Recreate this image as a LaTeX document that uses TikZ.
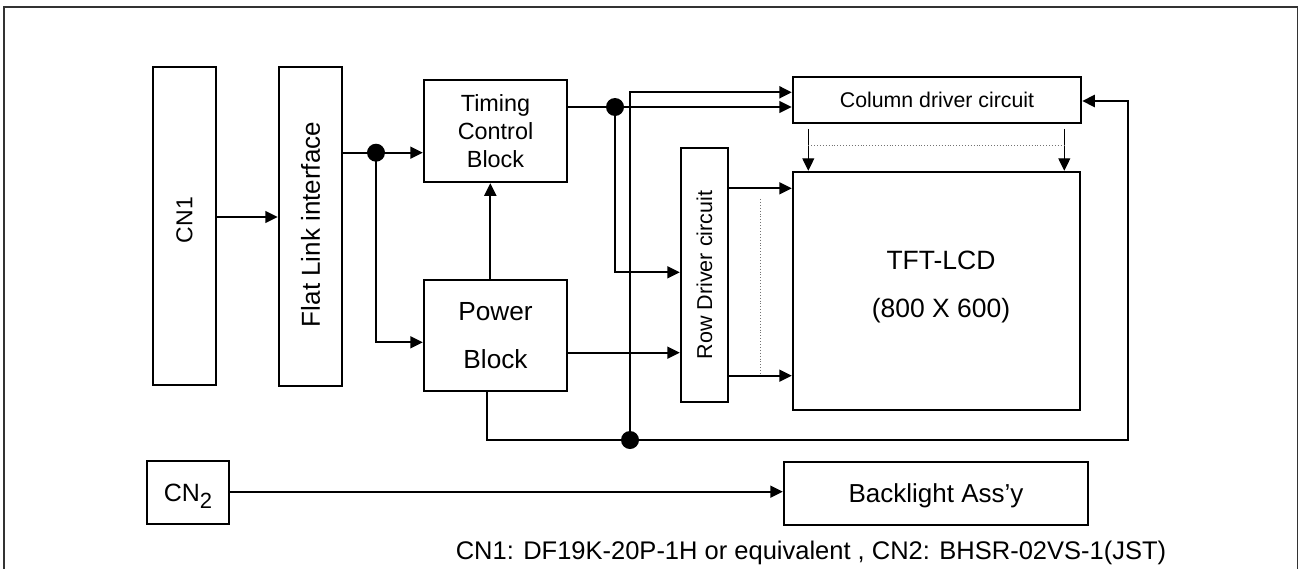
\documentclass[tikz,border=0pt]{standalone}
\usepackage{fontspec}
\setmainfont{Liberation Sans}
\usetikzlibrary{arrows.meta}
\newcommand{\fsz}[1]{\fontsize{#1}{#1}\selectfont}
\tikzset{
 box/.style={draw=black, line width=2.5pt, inner sep=0pt, align=center},
 conn/.style={line width=1.7pt},
 arr/.style={conn, -{Triangle[length=12.5pt,width=12pt]}},
 thickconn/.style={line width=2.3pt},
 dotline/.style={draw=black!55, line width=0.9pt, dotted},
 junction/.style={circle, fill=black, inner sep=0pt, minimum size=18pt},
}
\begin{document}
\begin{tikzpicture}[x=1pt,y=-1pt]
\useasboundingbox (0,0) rectangle (1302,568);
% outer frame
\draw[line width=1.5pt, draw=black!80] (4,590) -- (4,7) -- (1297.5,7) -- (1297.5,590);

% blocks
\node[box, minimum width=63, minimum height=318, font=\fsz{23}] (cn1) at (184.5,226) {\rotatebox{90}{\hspace*{12pt}CN1}};
\node[box, minimum width=63, minimum height=319, font=\fsz{26}] (flat) at (310.5,226.5) {\rotatebox{90}{\hspace*{4pt}Flat Link interface}};
\node[box, minimum width=143, minimum height=102, font=\fontsize{23.4}{28.3}\selectfont] (timing) at (495.5,131) {Timing\\Control\\Block};
\node[box, minimum width=143, minimum height=111, font=\fontsize{26.2}{47.7}\selectfont] (power) at (495.5,335.5) {Power\\Block};
\node[box, minimum width=288, minimum height=46, font=\fsz{21.3}] (col) at (937,100) {Column driver circuit};
\node[box, minimum width=287, minimum height=238] (tft) at (936.5,291) {};
\node[font=\fontsize{26.5}{48}\selectfont, align=center] (tftlabel) at (941,287) {TFT-LCD\\(800 X 600)};
\node[box, minimum width=47, minimum height=254, font=\fsz{21.5}] (row) at (704.5,275) {\rotatebox{90}{Row Driver circuit}};
\node[box, minimum width=82, minimum height=63, font=\fsz{25}, text depth=0pt] (cn2) at (188,492.5) {CN\raisebox{-7pt}{\fsz{22}2}};
\node[box, minimum width=304, minimum height=63, font=\fsz{26}, text depth=0pt] (back) at (936,493.5) {Backlight Ass’y};
\node[anchor=base, font=\fsz{25.5}] (caption) at (811,559) {CN1: DF19K-20P-1H or equivalent , CN2: BHSR-02VS-1(JST)};

% junction coordinates
\coordinate (j1) at (376,152.7);
\coordinate (j2) at (615,107);
\coordinate (j3) at (630,440);
\coordinate (bustop) at (630,92.3);
\coordinate (rturn) at (1127.7,440);

% connectors
\draw[arr] (cn1.east |- 0,217) -- (flat.west |- 0,217);
\draw[conn] (flat.east |- j1) -- (j1);
\draw[arr] (j1) -- (timing.west |- j1);
\draw[arr] (j1) |- (power.west |- 0,342.3);
\draw[arr] (power.north -| 490.3,0) -- (timing.south -| 490.3,0);
\draw[conn] (timing.east |- j2) -- (j2);
\draw[arr] (j2) -- (col.west |- j2);
\draw[arr] (j2) |- (row.west |- 0,272.3);
\draw[arr, thickconn] (j3) -- (bustop) -- (col.west |- bustop);
\draw[arr, thickconn] (power.south -| 487.3,0) |- (j3) -- (rturn) |- (col.east |- 0,101);
\draw[arr] (power.east |- 0,352.7) -- (row.west |- 0,352.7);
\draw[arr] (row.east |- 0,188.3) -- (tft.west |- 0,188.3);
\draw[arr] (row.east |- 0,375.7) -- (tft.west |- 0,375.7);
\draw[arr, line width=1.3pt, shorten <=4.5pt] (col.south -| 808.3,0) -- (tft.north -| 808.3,0);
\draw[arr, line width=1.3pt, shorten <=4.5pt] (col.south -| 1064.3,0) -- (tft.north -| 1064.3,0);
\draw[arr] (cn2.east |- 0,491.7) -- (back.west |- 0,491.7);

% dotted continuation lines
\draw[dotline] (808.3,145.7) -- (1064.3,145.7);
\draw[dotline] (760,199) -- (760,373.3);

% junction dots
\node[junction] (d1) at (j1) {};
\node[junction] (d2) at (j2) {};
\node[junction] (d3) at (j3) {};
\end{tikzpicture}
\end{document}
